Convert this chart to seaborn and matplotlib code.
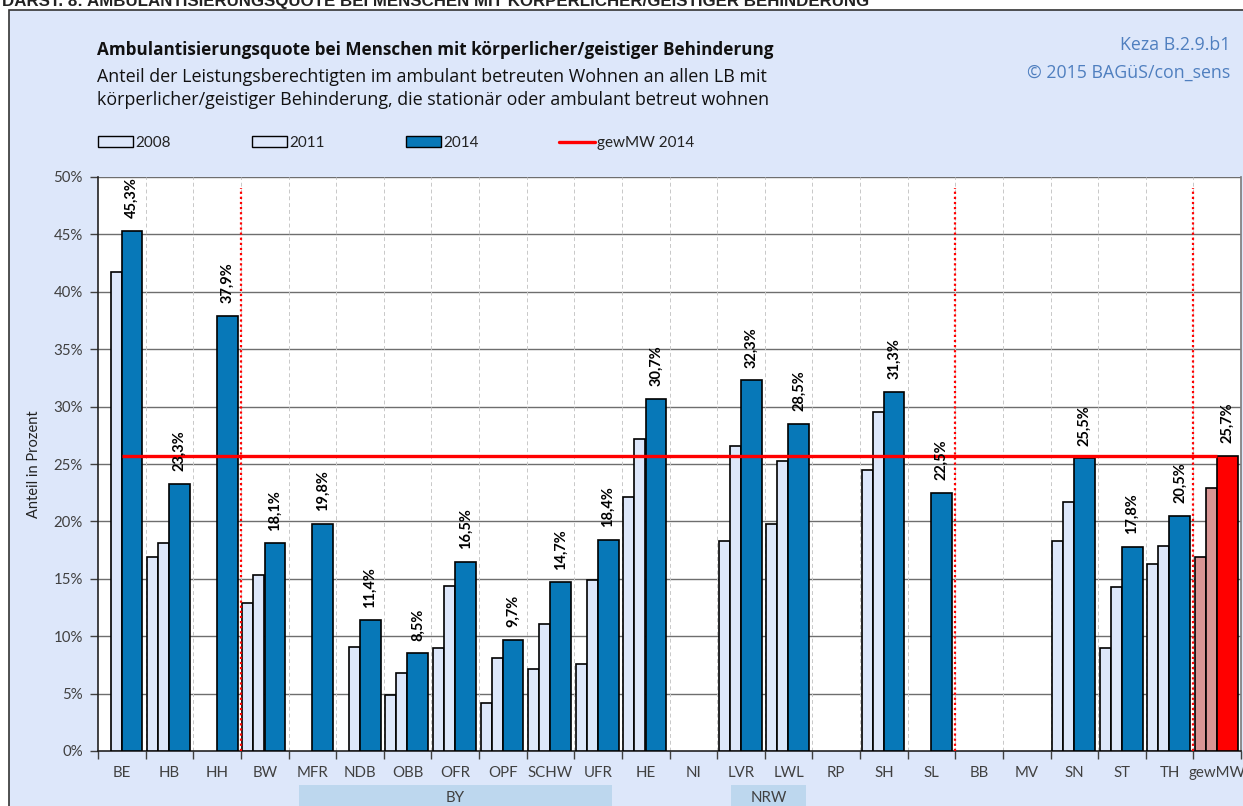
import numpy as np
import pandas as pd
import matplotlib
matplotlib.use("Agg")
import matplotlib.pyplot as plt
import matplotlib.transforms as mtransforms
from matplotlib.patches import Rectangle, Patch
from matplotlib.lines import Line2D
import seaborn as sns

# ---------------- data ----------------
categories = ["BE", "HB", "HH", "BW", "MFR", "NDB", "OBB", "OFR", "OPF", "SCHW", "UFR",
              "HE", "NI", "LVR", "LWL", "RP", "SH", "SL", "BB", "MV", "SN", "ST", "TH", "gewMW"]
v2008 = [None, 16.9, None, 12.9, None, None, 4.9, 9.0, 4.2, 7.1, 7.6,
         22.1, None, 18.3, 19.8, None, 24.5, None, None, None, 18.3, 9.0, 16.3, 16.9]
v2011 = [41.7, 18.1, None, 15.3, None, 9.1, 6.8, 14.4, 8.1, 11.1, 14.9,
         27.2, None, 26.6, 25.3, None, 29.5, None, None, None, 21.7, 14.3, 17.9, 22.9]
v2014 = [45.3, 23.3, 37.9, 18.1, 19.8, 11.4, 8.5, 16.5, 9.7, 14.7, 18.4,
         30.7, None, 32.3, 28.5, None, 31.3, 22.5, None, None, 25.5, 17.8, 20.5, 25.7]
mean_2014 = 25.7
yticks = [0, 5, 10, 15, 20, 25, 30, 35, 40, 45, 50]
groups = [("BY", "MFR", "UFR"), ("NRW", "LVR", "LWL")]
separators_after = ["HH", "SL", "TH"]

title = "Ambulantisierungsquote bei Menschen mit körperlicher/geistiger Behinderung"
subtitle = ("Anteil der Leistungsberechtigten im ambulant betreuten Wohnen an allen LB mit\n"
            "körperlicher/geistiger Behinderung, die stationär oder ambulant betreut wohnen")
header = "DARST. 8: AMBULANTISIERUNGSQUOTE BEI MENSCHEN MIT KÖRPERLICHER/GEISTIGER BEHINDERUNG"
source1 = "Keza B.2.9.b1"
source2 = "© 2015 BAGüS/con_sens"

# ---------------- style ----------------
sns.set_theme(style="white")
FONT = ["Lato", "DejaVu Sans"]
TFONT = ["Open Sans", "DejaVu Sans"]
plt.rcParams["font.family"] = FONT

W, H = 1243, 806
fig = plt.figure(figsize=(W / 100, H / 100), dpi=100, facecolor="white")

PANEL = "#DDE7FA"
LIGHT = "#DDE7FA"
DARK = "#0778B8"
MW_LIGHT = "#D99594"
MW_DARK = "#FF0000"

# panel background with border
fig.patches.append(Rectangle((9 / W, -0.1), 1.2, 1 - 10 / H + 0.1, transform=fig.transFigure,
                             facecolor=PANEL, edgecolor="#333333", lw=1.2, zorder=-10))

# clipped header
fig.text(2 / W, 1 - 6 / H, header, ha="left", va="baseline", fontsize=12.2, fontweight="bold",
         family=["Liberation Sans Narrow", "Liberation Sans"], color="#222222")

ax_left, ax_right = 98 / W, 1241 / W
ax_bottom, ax_top = 1 - 751 / H, 1 - 177 / H
ax = fig.add_axes([ax_left, ax_bottom, ax_right - ax_left, ax_top - ax_bottom])
ax.set_zorder(2)
ax.set_facecolor("white")

n = len(categories)
cat_w_px = (1241 - 98) / n
# bar offsets/widths (in category units)
specs = [
    ("2008", v2008, -0.351, 0.231, LIGHT, MW_LIGHT),
    ("2011", v2011, -0.120, 0.231, LIGHT, MW_LIGHT),
    ("2014", v2014, 0.215, 0.436, DARK, MW_DARK),
]

for year, vals, off, wd, col, mwcol in specs:
    df = pd.DataFrame({"cat": categories, "val": vals}).dropna()
    pal = {c: (mwcol if c == "gewMW" else col) for c in df["cat"]}
    sns.barplot(data=df, x="cat", y="val", hue="cat", palette=pal, order=categories,
                hue_order=list(df["cat"]), dodge=False, legend=False, errorbar=None,
                width=wd, edgecolor="black", linewidth=1.2, saturation=1, ax=ax, zorder=3)
    for cont in ax.containers[-len(df):]:
        for p in cont.patches:
            p.set_x(p.get_x() + off)

# value labels for 2014
off14, w14 = specs[2][2], specs[2][3]
for i, v in enumerate(v2014):
    if v is None:
        continue
    ax.annotate(f"{v:.1f}%".replace(".", ","), xy=(i + off14, v), xytext=(0, 9),
                textcoords="offset points", rotation=90, ha="center", va="bottom",
                fontsize=10.5, fontweight="bold", color="black", zorder=6)

# mean line
ax.plot([0 + off14 - w14 / 2, (n - 1) + off14 - w14 / 2], [mean_2014, mean_2014],
        color="#FF0000", lw=2.4, zorder=5, solid_capstyle="butt")

# separators
for c in separators_after:
    xi = categories.index(c) + 0.5
    ax.plot([xi, xi], [0, 49], color="#FF0000", lw=1.6, ls=(0, (1, 1.3)), zorder=4)

# grid
for y in yticks[1:]:
    ax.axhline(y, color="#6E6E6E", lw=1.0, zorder=1)
for k in range(n - 1):
    ax.axvline(k + 0.5, color="#C8C8C8", lw=0.7, ls=(0, (4, 3)), zorder=1)

ax.set_xlim(-0.5, n - 0.5)
ax.set_ylim(0, 50)
ax.set_yticks(yticks)
ax.set_yticklabels([f"{t}%" for t in yticks], fontsize=10.8, color="#404040")
ax.set_xticks(np.arange(-0.5, n, 1.0))
ax.set_xticklabels([])
ax.set_xticks(np.arange(n), minor=True)
ax.set_xticklabels(categories, minor=True, fontsize=10.8, color="#404040")
ax.tick_params(axis="x", which="major", length=6, width=1, color="#404040", direction="out", bottom=True)
ax.tick_params(axis="x", which="minor", length=0, pad=11)
ax.tick_params(axis="y", length=6, width=1, color="#404040", direction="out", left=True, pad=5)
ax.set_xlabel("")
ax.set_ylabel("Anteil in Prozent", fontsize=10.5, color="#222222", labelpad=9)
for s in ["left", "bottom"]:
    ax.spines[s].set_color("#222222")
    ax.spines[s].set_linewidth(1.2)
ax.spines["top"].set_visible(False)
ax.spines["right"].set_color("#7F7F7F")

# group boxes under x axis
trans = mtransforms.blended_transform_factory(ax.transData, fig.transFigure)
for name, a, b in groups:
    x0 = categories.index(a) - 0.5 + 10 / cat_w_px
    x1 = categories.index(b) + 0.5 - 10 / cat_w_px
    if name == "NRW":
        x0 = categories.index(a) - 0.5 + 14 / cat_w_px
        x1 = categories.index(b) + 0.5 - 6 / cat_w_px
    fig.patches.append(Rectangle((x0, -0.05), x1 - x0, 0.05 + 1 - 785 / H, transform=trans,
                                 facecolor="#BDD7EE", edgecolor="none", zorder=-5))
    fig.text((x0 + x1) / 2, 1 - 798 / H, name, transform=trans, ha="center", va="center",
             fontsize=10.8, color="#404040")

# titles
fig.text(97 / W, 1 - 50 / H, title, ha="left", va="center", fontsize=12.3, fontweight="bold",
         color="#111111", family=TFONT)
fig.text(97 / W, 1 - 88.5 / H, subtitle, ha="left", va="center", fontsize=12.9, color="#111111",
         linespacing=1.38, family=TFONT)
fig.text(1230 / W, 1 - 45 / H, source1, ha="right", va="center", fontsize=12.8, color="#4F7FBF", family=TFONT)
fig.text(1230 / W, 1 - 73 / H, source2, ha="right", va="center", fontsize=12.8, color="#4F7FBF", family=TFONT)

# legend
handles = [Patch(facecolor=LIGHT, edgecolor="black", lw=1.0, label="2008"),
           Patch(facecolor=LIGHT, edgecolor="black", lw=1.0, label="2011"),
           Patch(facecolor=DARK, edgecolor="black", lw=1.0, label="2014"),
           Line2D([0], [0], color="#FF0000", lw=2.4, label="gewMW 2014")]
fig.legend(handles=handles, loc="center left", bbox_to_anchor=(84 / W, 1 - 143 / H), ncol=4,
           frameon=False, fontsize=11, handlelength=2.3, handleheight=0.75, handletextpad=0.15,
           columnspacing=5.3, labelcolor="#222222")

fig.savefig("out.png", dpi=100, facecolor="white")
